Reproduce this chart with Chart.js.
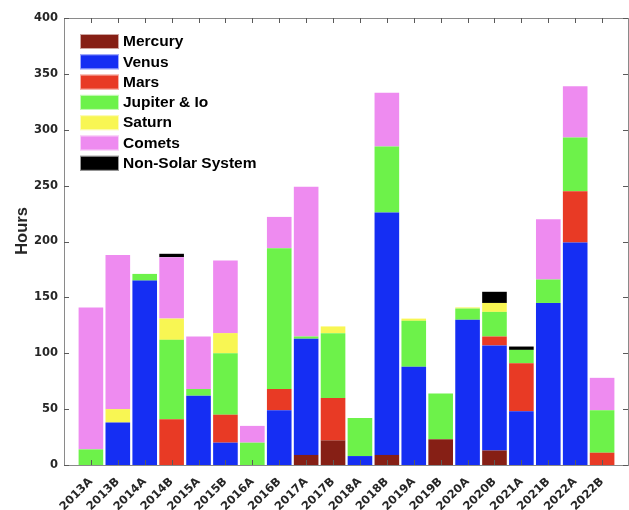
<!DOCTYPE html>
<html>
<head>
<meta charset="utf-8">
<script src="https://cdn.jsdelivr.net/npm/chart.js@4.4.1/dist/chart.umd.min.js"></script>
<style>
  html, body { margin: 0; padding: 0; background: #ffffff; }
  #wrap { width: 629px; height: 510px; position: relative; }
</style>
</head>
<body>
<div id="wrap"><canvas id="c" width="629" height="510"></canvas></div>
<script>
// Observing semesters
const categories = ['2013A','2013B','2014A','2014B','2015A','2015B','2016A','2016B','2017A','2017B',
                    '2018A','2018B','2019A','2019B','2020A','2020B','2021A','2021B','2022A','2022B'];

// Hours per target class, one value per semester
const mercury   = [0, 0, 0, 0, 0, 0, 0, 0, 9, 22, 0, 9, 0, 23, 0, 13, 0, 0, 0, 0];
const venus     = [0, 38, 165, 0, 62, 20, 0, 49, 104, 0, 8, 217, 88, 0, 130, 94, 48, 145, 199, 0];
const mars      = [0, 0, 0, 41, 0, 25, 0, 19, 0, 38, 0, 0, 0, 0, 0, 8, 43, 0, 46, 11];
const jupiterIo = [14, 0, 6, 71, 6, 55, 20, 126, 2, 58, 34, 59, 41, 41, 10, 22, 12, 21, 48, 38];
const saturn    = [0, 12, 0, 19, 0, 18, 0, 0, 0, 6, 0, 0, 2, 0, 1, 8, 0, 0, 0, 0];
const comets    = [127, 138, 0, 55, 47, 65, 15, 28, 134, 0, 0, 48, 0, 0, 0, 0, 0, 54, 46, 29];
const nonSolar  = [0, 0, 0, 3, 0, 0, 0, 0, 0, 0, 0, 0, 0, 0, 0, 10, 3, 0, 0, 0];

const yTicks = [0, 50, 100, 150, 200, 250, 300, 350, 400];

const seriesNames  = ['Mercury', 'Venus', 'Mars', 'Jupiter & Io', 'Saturn', 'Comets', 'Non-Solar System'];
const seriesValues = [mercury, venus, mars, jupiterIo, saturn, comets, nonSolar];
const seriesColors = ['#861F15', '#152EF3', '#E83A25', '#6DF24A', '#F8F653', '#EE8BF0', '#000000'];

const TICK_FONT = { family: 'DejaVu Sans', weight: 'bold', size: 11.5 };
const AXIS_GRAY = '#8a8a8a';

const datasets = seriesNames.map((name, s) => ({
  label: name,
  data: seriesValues[s].map((v, i) => ({ x: i + 1, y: v === 0 ? null : v })),
  backgroundColor: seriesColors[s],
  borderWidth: 0,
  grouped: false,
  barPercentage: 0.915,
  categoryPercentage: 1.0
}));

// Box around the plot, inward tick marks, the legend and the y title
const framePlugin = {
  id: 'frame',
  afterDatasetsDraw(chart) {
    const { ctx, chartArea: a, scales: { x, y } } = chart;
    ctx.save();
    ctx.strokeStyle = AXIS_GRAY;
    ctx.lineWidth = 1;
    ctx.strokeRect(Math.round(a.left) + 0.5, Math.round(a.top) + 0.5,
                   Math.round(a.right - a.left) - 1, Math.round(a.bottom - a.top));
    ctx.strokeStyle = '#5a5a5a';
    ctx.beginPath();
    for (let i = 1; i <= categories.length; i++) {
      const px = Math.round(x.getPixelForValue(i)) + 0.5;
      ctx.moveTo(px, a.top); ctx.lineTo(px, a.top + 5);
      ctx.moveTo(px, a.bottom); ctx.lineTo(px, a.bottom - 5);
    }
    yTicks.forEach(v => {
      const py = Math.round(y.getPixelForValue(v)) + 0.5;
      ctx.moveTo(a.left, py); ctx.lineTo(a.left + 5, py);
      ctx.moveTo(a.right - 1, py); ctx.lineTo(a.right - 6, py);
    });
    ctx.stroke();

    // legend
    const bx = 80, by = 34, bw = 39, bh = 15, step = 20.3;
    ctx.font = 'bold 15.5px "Liberation Sans", Arial, sans-serif';
    ctx.textBaseline = 'middle';
    ctx.textAlign = 'left';
    chart.data.datasets.forEach((ds, k) => {
      const top = by + k * step;
      ctx.fillStyle = ds.backgroundColor;
      ctx.fillRect(bx, top, bw, bh);
      ctx.strokeStyle = 'rgba(255,255,255,0.6)';
      ctx.strokeRect(bx + 0.5, top + 0.5, bw - 1, bh - 1);
      ctx.fillStyle = '#000000';
      ctx.fillText(ds.label, bx + bw + 4, top + bh / 2 + 0.5);
    });

    // y axis title
    ctx.save();
    ctx.translate(22, 231);
    ctx.rotate(-Math.PI / 2);
    ctx.textAlign = 'center';
    ctx.textBaseline = 'middle';
    ctx.fillStyle = '#262626';
    ctx.font = 'bold 16.5px "Liberation Sans", Arial, sans-serif';
    ctx.fillText('Hours', 0, 0);
    ctx.restore();
    ctx.restore();
  }
};

new Chart(document.getElementById('c'), {
  type: 'bar',
  data: { datasets },
  options: {
    responsive: false,
    animation: false,
    devicePixelRatio: 1,
    layout: { autoPadding: false, padding: { top: 18, left: 0, right: 0, bottom: 0 } },
    plugins: { legend: { display: false }, tooltip: { enabled: false } },
    scales: {
      x: {
        type: 'linear',
        offset: false,
        min: 0,
        max: categories.length + 1,
        grid: { display: false, drawTicks: false },
        border: { display: false },
        ticks: {
          stepSize: 1,
          autoSkip: false,
          maxRotation: 45,
          minRotation: 45,
          padding: 10,
          color: '#262626',
          font: TICK_FONT,
          callback: v => categories[v - 1] ?? ''
        },
        afterFit: s => { s.height = 45; s.paddingLeft = 0; s.paddingRight = 0; }
      },
      y: {
        stacked: true,
        min: 0,
        max: 400,
        grid: { display: false, drawTicks: false },
        border: { display: false },
        ticks: {
          stepSize: 50,
          padding: 6,
          color: '#262626',
          font: TICK_FONT
        },
        afterBuildTicks: s => { s.ticks = yTicks.map(v => ({ value: v })); },
        afterFit: s => { s.width = 64; }
      }
    }
  },
  plugins: [framePlugin]
});
</script>
</body>
</html>
